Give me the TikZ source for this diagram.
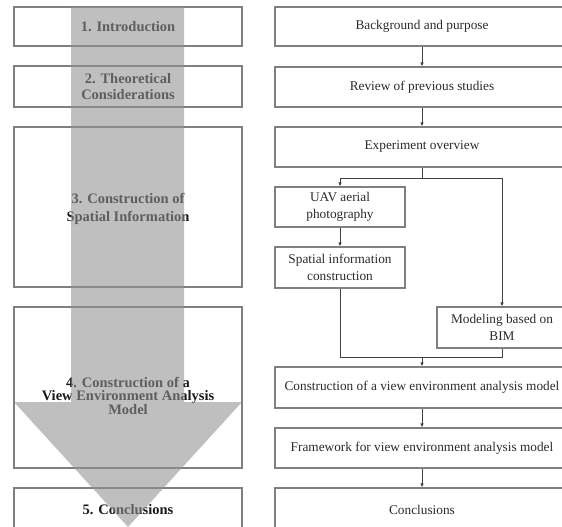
\documentclass[tikz,border=0pt]{standalone}
\usepackage{fontspec}
\setmainfont{Liberation Serif}
\usetikzlibrary{arrows.meta}
\definecolor{boxline}{HTML}{808080}
\definecolor{txtdark}{HTML}{2A2A2A}
\definecolor{arrowgray}{HTML}{919191}
\tikzset{
  lbox/.style={draw=boxline, line width=1.1pt, rectangle, inner sep=0pt, align=center,
    minimum width=228pt, text=black!90, font=\fontsize{14.5}{16.5}\selectfont\bfseries},
  rbox/.style={draw=boxline, line width=1.1pt, rectangle, inner sep=0pt, align=center,
    text=txtdark, font=\fontsize{13.3}{17}\selectfont},
  conn/.style={draw=black!75, line width=0.8pt},
  arr/.style={conn, -{Latex[length=4pt,width=3.5pt]}},
}
\begin{document}
\begin{tikzpicture}[x=1pt,y=-1pt]
\useasboundingbox (0,0) rectangle (562,527);
\clip (0,0) rectangle (562,527);
% left boxes
\node[lbox, minimum height=39pt] (L1) at (128,26.5) {1. Introduction};
\node[lbox, minimum height=41pt] (L2) at (128,86.5) {2. Theoretical\\Considerations};
\node[lbox, minimum height=160pt] (L3) at (128,207) {};
\node[lbox, draw=none, font=\fontsize{14.5}{17.5}\selectfont\bfseries] (L3t) at (128,209) {3. Construction of\\Spatial Information};
\node[lbox, minimum height=161pt] (L4) at (128,387.5) {};
\node[lbox, draw=none, font=\fontsize{14.5}{13.5}\selectfont\bfseries] (L4t) at (128,395.5) {4. Construction of a\\View Environment Analysis\\Model};
\node[lbox, minimum height=44pt] (L5) at (128,510) {5. Conclusions};
% big translucent arrow
\fill[arrowgray, fill opacity=0.58] (71,7) -- (184,7) -- (184,402) -- (242,402) -- (128,527) -- (14,402) -- (71,402) -- cycle;
% right boxes
\node[rbox, minimum width=294pt, minimum height=39pt] (R1) at (422,26.5) {Background and purpose};
\node[rbox, minimum width=294pt, minimum height=40pt] (R2) at (422,87) {Review of previous studies};
\node[rbox, minimum width=294pt, minimum height=40pt] (R3) at (422,147) {Experiment overview};
\node[rbox, minimum width=130pt, minimum height=40pt] (uav) at (340,207) {UAV aerial\\photography};
\node[rbox, minimum width=130pt, minimum height=41pt] (sp) at (340,267.5) {Spatial information\\construction};
\node[rbox, minimum width=130pt, minimum height=41pt] (bim) at (502,327.5) {Modeling based on\\BIM};
\node[rbox, minimum width=294pt, minimum height=41pt] (con) at (422,387.5) {Construction of a view environment analysis model};
\node[rbox, minimum width=294pt, minimum height=40pt] (fw) at (422,448) {Framework for view environment analysis model};
\node[rbox, minimum width=294pt, minimum height=44pt] (cc) at (422,510) {Conclusions};
% connectors
\coordinate (split) at (422,178);
\coordinate (join) at (422,357);
\draw[arr] (R1.south) -- (R2.north);
\draw[arr] (R2.south) -- (R3.north);
\draw[conn] (R3.south) -- (split);
\draw[arr] (split) -| (uav.north);
\draw[arr] (split) -| (bim.north);
\draw[arr] (uav.south) -- (sp.north);
\draw[conn] (sp.south) |- (join);
\draw[conn] (bim.south) |- (join);
\draw[arr] (join) -- (con.north);
\draw[arr] (con.south) -- (fw.north);
\draw[arr] (fw.south) -- (cc.north);
\end{tikzpicture}
\end{document}
